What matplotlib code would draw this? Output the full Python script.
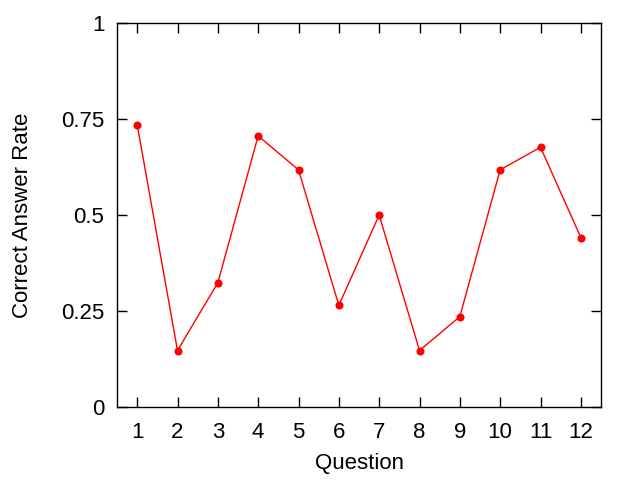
import matplotlib
matplotlib.use("Agg")
import matplotlib.pyplot as plt

questions = [1, 2, 3, 4, 5, 6, 7, 8, 9, 10, 11, 12]
rates = [25/34, 5/34, 11/34, 24/34, 21/34, 9/34, 17/34, 5/34, 8/34, 21/34, 23/34, 15/34]
ytick_vals = [0, 0.25, 0.5, 0.75, 1]
ytick_labels = ["0", "0.25", "0.5", "0.75", "1"]

plt.rcParams['font.family'] = ['Liberation Sans', 'DejaVu Sans']
fig = plt.figure(figsize=(6.4, 4.8), dpi=100)
ax = fig.add_axes([117/640, 1 - 407/480, (601 - 117)/640, (407 - 23)/480])
ax.plot(questions, rates, color='red', linewidth=1, marker='o', markersize=4.8)
ax.set_xlim(0.5, 12.5)
ax.set_ylim(0, 1)
ax.set_xticks(questions)
ax.set_xticklabels([str(q) for q in questions])
ax.set_yticks(ytick_vals)
ax.set_yticklabels(ytick_labels)
ax.tick_params(direction='in', length=7, width=1, top=True, right=True, labelsize=16)
ax.tick_params(axis='x', pad=11)
ax.tick_params(axis='y', pad=9)
for s in ax.spines.values():
    s.set_linewidth(1)
ax.set_xlabel('Question', fontsize=16, va='center')
ax.set_ylabel('Correct Answer Rate', fontsize=16, va='center')
ax.xaxis.set_label_coords(0.5, -(463 - 407) / (407 - 23), transform=ax.transAxes)
ax.yaxis.set_label_coords(-(117 - 23) / (601 - 117), 0.5, transform=ax.transAxes)
fig.savefig('out.png', dpi=100)
